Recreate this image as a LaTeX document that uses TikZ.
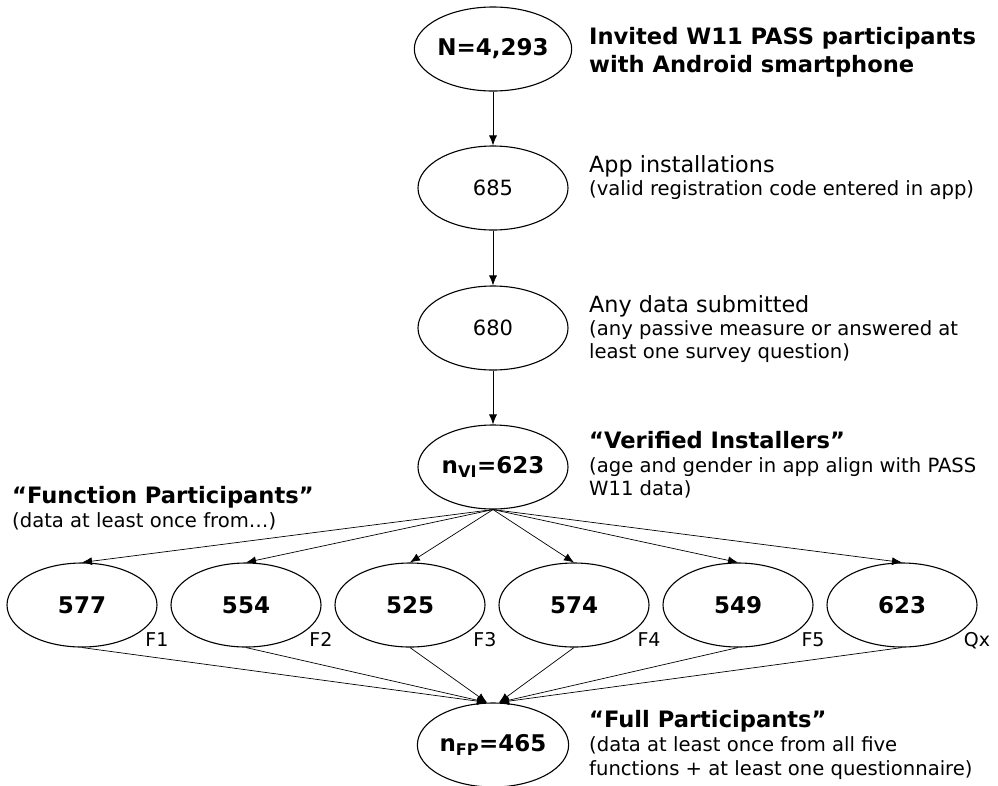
\documentclass[tikz,border=0pt]{standalone}
\usepackage{fontspec}
\setmainfont{DejaVu Sans}
\usetikzlibrary{shapes.geometric,arrows.meta}

\begin{document}
\begin{tikzpicture}[x=1pt, y=-1pt,
	>={Latex[length=10pt,width=8pt]},
	oval/.style={draw, ellipse, line width=1.1pt, minimum width=150pt, minimum height=84pt, inner sep=0pt},
	numb/.style={oval, font=\fontsize{23}{26}\selectfont\bfseries},
	numr/.style={oval, font=\fontsize{21}{24}\selectfont},
	head/.style={anchor=base west, inner sep=0pt, font=\fontsize{22.6}{26}\selectfont\bfseries},
	big/.style={anchor=base west, inner sep=0pt, font=\fontsize{22.3}{26}\selectfont},
	sub/.style={anchor=base west, inner sep=0pt, font=\fontsize{19.6}{22}\selectfont},
	tag/.style={anchor=base, inner sep=0pt, font=\fontsize{19}{22}\selectfont},
	flow/.style={->, line width=0.7pt}]
	\useasboundingbox (0,0) rectangle (998,785);
	% chain
	\node[numb] (inv) at (493,49) {N=4,293};
	\node[numr] (inst) at (493,188) {685};
	\node[numr] (subm) at (493,328) {680};
	\node[numb] (vi) at (493,467) {n\textsubscript{VI}=623};
	\node[numb] (fp) at (493,745) {n\textsubscript{FP}=465};
	\draw[flow] (inv) -- (inst);
	\draw[flow] (inst) -- (subm);
	\draw[flow] (subm) -- (vi);
	% functions
	\foreach \n/\x/\f [count=\i] in {577/82/F1, 554/246/F2, 525/410/F3, 574/574/F4, 549/738/F5, 623/902/Qx}{
		\node[numb] (f\i) at (\x,605) {\n};
		\node[tag] (l\i) at (\x+75,646) {\f};
		\draw[flow] (vi.south) -- (f\i.north);
	}
	\foreach \i in {1,2,3} \draw[flow] (f\i.south) -- ([xshift=-6pt]fp.north);
	\foreach \i in {4,5,6} \draw[flow] (f\i.south) -- ([xshift=6pt]fp.north);
	% texts
	\node[head] (t1) at (589,44) {Invited W11 PASS participants};
	\node[head] (t2) at (589,72) {with Android smartphone};
	\node[big] (t3) at (589,172) {App installations};
	\node[sub] (t4) at (589,195) {(valid registration code entered in app)};
	\node[big] (t5) at (589,312) {Any data submitted};
	\node[sub] (t6) at (589,335) {(any passive measure or answered at};
	\node[sub] (t7) at (589,358) {least one survey question)};
	\node[head] (t8) at (589,448) {“Verified Installers”};
	\node[sub] (t9) at (589,472) {(age and gender in app align with PASS};
	\node[sub] (t10) at (589,495) {W11 data)};
	\node[head] (t11) at (12,503) {“Function Participants”};
	\node[sub] (t12) at (12,527) {(data at least once from…)};
	\node[head] (t13) at (589,727) {“Full Participants”};
	\node[sub] (t14) at (589,751) {(data at least once from all five};
	\node[sub] (t15) at (589,775) {functions + at least one questionnaire)};
\end{tikzpicture}
\end{document}
